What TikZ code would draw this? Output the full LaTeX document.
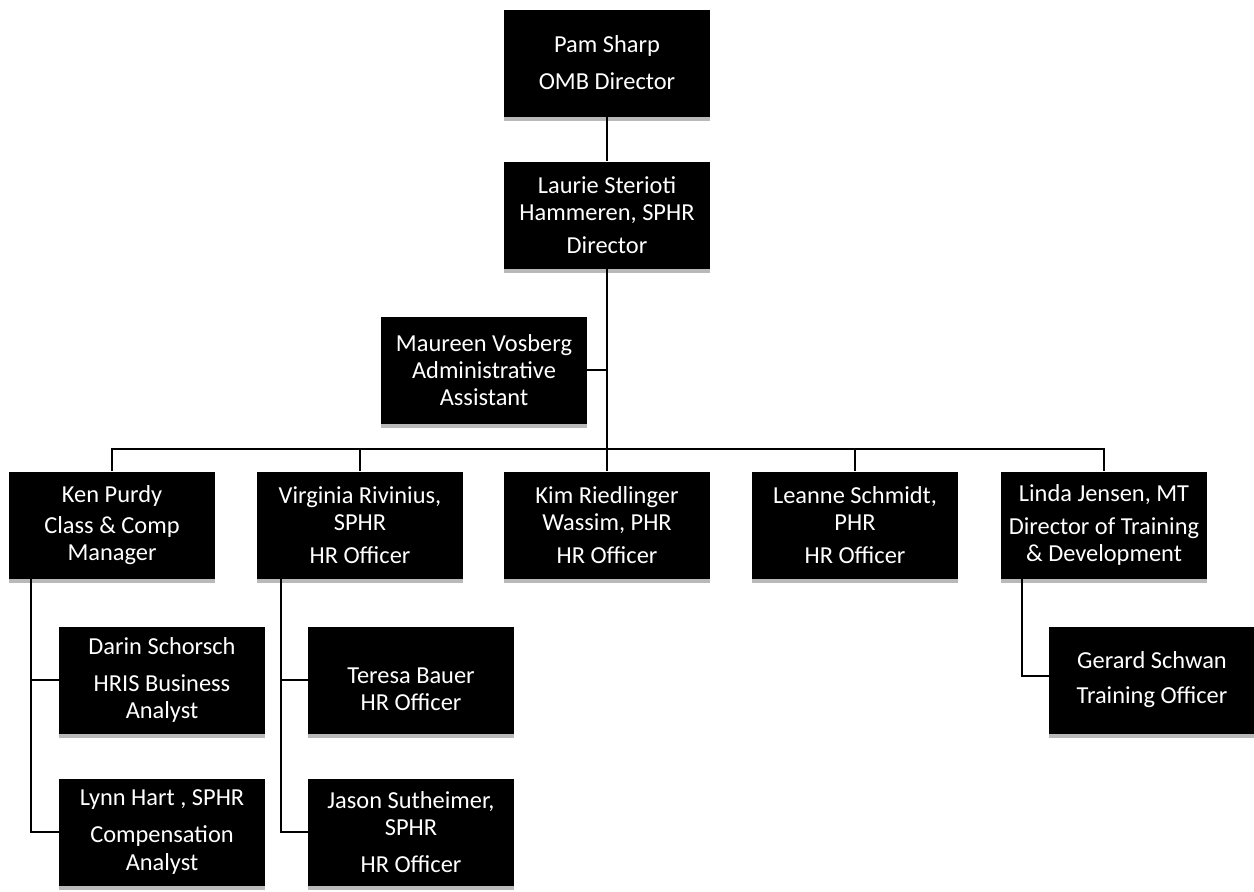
\documentclass[tikz,border=0pt]{standalone}
\usepackage{fontspec}
\setmainfont{Carlito}
\usetikzlibrary{shadows}

\begin{document}
\begin{tikzpicture}[x=0.5pt, y=-0.5pt,
  staff/.style={rectangle, fill=black, text=white, inner sep=1pt,
    minimum width=103pt, minimum height=53.5pt, align=center,
    font=\fontsize{12.2}{13.6}\selectfont,
    general shadow={shadow yshift=-2pt, fill=gray!55}},
  link/.style={line width=0.8pt}]
  \useasboundingbox (0,0) rectangle (1254,891);
  % Top of the chart
  \node[staff] (pam) at (607,63) {Pam Sharp\\[5pt]OMB Director};
  \node[staff] (laurie) at (607,215) {Laurie Sterioti\\Hammeren, SPHR\\[3pt]Director};
  \node[staff] (maureen) at (484,370) {Maureen Vosberg\\Administrative\\Assistant};
  % Second row
  \node[staff] (ken) at (112,525) {Ken Purdy\\[2pt]Class \& Comp\\Manager};
  \node[staff] (virginia) at (360,525) {Virginia Rivinius,\\SPHR\\[3pt]HR Officer};
  \node[staff] (kim) at (607,525) {Kim Riedlinger\\Wassim, PHR\\[3pt]HR Officer};
  \node[staff] (leanne) at (855,525) {Leanne Schmidt,\\PHR\\[3pt]HR Officer};
  \node[staff] (linda) at (1104,525) {Linda Jensen, MT\\[3pt]Director of Training\\\& Development};
  % Third and fourth rows
  \node[staff] (darin) at (162,680) {Darin Schorsch\\[5pt]HRIS Business\\Analyst};
  \node[staff] (lynn) at (162,832) {Lynn Hart , SPHR\\[5pt]Compensation\\Analyst};
  \node[staff] (teresa) at (411,680) {\strut\\[-6pt]Teresa Bauer\\HR Officer};
  \node[staff] (jason) at (411,832) {Jason Sutheimer,\\SPHR\\[5pt]HR Officer};
  \node[staff] (gerard) at (1152,680) {Gerard Schwan\\[4pt]Training Officer};
  % Bus and taps
  \coordinate (bus) at (607,449);
  \coordinate (kentap) at (31,578);
  \coordinate (virgtap) at (281,578);
  \coordinate (lindatap) at (1022,578);
  % Connectors
  \draw[link] (pam.south) -- (laurie.north);
  \draw[link] (laurie.south) -- (bus);
  \draw[link] (maureen.east) -- (maureen.east -| bus);
  \draw[link] (ken.north) |- (bus) -| (linda.north);
  \foreach \n in {virginia,kim,leanne}
    \draw[link] (\n.north) -- (\n.north |- bus);
  \draw[link] (kentap) |- (darin.west);
  \draw[link] (kentap) |- (lynn.west);
  \draw[link] (virgtap) |- (teresa.west);
  \draw[link] (virgtap) |- (jason.west);
  \draw[link] (lindatap) |- ([yshift=2pt]gerard.west);
\end{tikzpicture}
\end{document}
